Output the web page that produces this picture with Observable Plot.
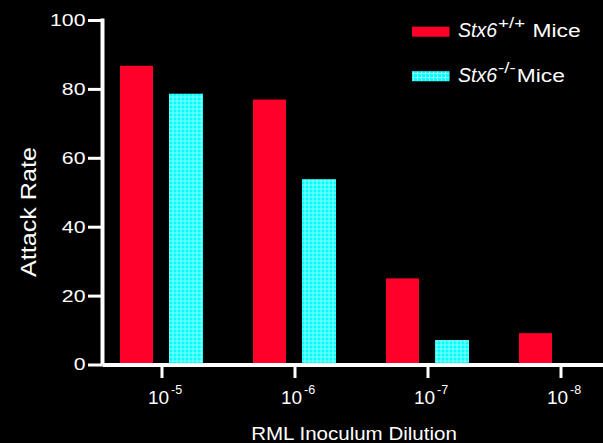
<!DOCTYPE html>
<html>
<head>
<meta charset="utf-8">
<script src="https://cdn.jsdelivr.net/npm/d3@7"></script>
<script src="https://cdn.jsdelivr.net/npm/@observablehq/plot@0.6"></script>
<style>
  html, body { margin: 0; padding: 0; background: #000; }
  #chart svg { display: block; }
</style>
</head>
<body>
<!-- fine light mesh used for the knockout bars (shifted half a pixel so lines stay crisp) -->
<svg width="0" height="0" style="position:absolute">
  <defs>
    <pattern id="mesh" width="4" height="4" patternUnits="userSpaceOnUse" patternTransform="translate(0.5,0.5)">
      <rect width="4" height="4" fill="#00ffff"/>
      <rect width="1" height="4" fill="#8affff"/>
      <rect width="4" height="1" fill="#8affff"/>
    </pattern>
  </defs>
</svg>
<div id="chart"></div>
<script>
// Attack rate (%) per RML inoculum dilution (10^exponent)
const dilutionExponents = ["-5", "-6", "-7", "-8"];
const wildTypeRate = [86.7, 76.9, 25.0, 9.1];
const knockoutRate = [78.6, 53.8, 7.1, null];
const yTicks = [0, 20, 40, 60, 80, 100];
const seriesGene = ["Stx6", "Stx6"];
const seriesGenotype = ["+/+", "-/-"];
const seriesSuffix = [" Mice", "Mice"];
const seriesColors = ["#ff0029", "url(#mesh)"];

const wildType = dilutionExponents.map((d, i) => ({dilution: d, rate: wildTypeRate[i]}));
const knockout = dilutionExponents
  .map((d, i) => ({dilution: d, rate: knockoutRate[i]}))
  .filter(d => d.rate != null);

const W = 603, H = 443;
const marginLeft = 102.5, marginTop = 20, marginBottom = 78.5;
const font = "'Liberation Sans', Arial, Helvetica, sans-serif";

const chart = Plot.plot({
  width: W,
  height: H,
  marginTop,
  marginBottom,
  marginLeft,
  marginRight: 0,
  style: {background: "#000", color: "#fff", fontFamily: font, overflow: "visible"},
  x: {type: "band", domain: dilutionExponents, range: [95, 627], padding: 0},
  y: {domain: [0, 100]},
  marks: [
    Plot.barY(wildType, {x: "dilution", y: "rate", fill: seriesColors[0], insetLeft: 25, insetRight: 75}),
    Plot.barY(knockout, {x: "dilution", y: "rate", fill: seriesColors[1], insetLeft: 74, insetRight: 25}),
    Plot.axisY({ticks: yTicks, tickSize: 14.5, tickPadding: 3, fontSize: 17, strokeWidth: 3, label: null}),
    Plot.axisX({tickSize: 13.5, tickPadding: 11.5, fontSize: 19, strokeWidth: 3, label: null,
                tickFormat: d => `10^${d}`}),
    Plot.ruleY([0], {stroke: "#fff", strokeWidth: 4})
  ]
});

document.getElementById("chart").appendChild(chart);

const svg = d3.select(chart);
const y = chart.scale("y");

// widen a text element horizontally about its anchor
function widen(node, k) {
  const tr = node.getAttribute("transform") || "";
  const x = +node.getAttribute("x") || 0;
  node.setAttribute("transform", `${tr} translate(${x},0) scale(${k},1) translate(${-x},0)`);
}

// y tick labels
svg.selectAll('g[aria-label="y-axis tick label"] text')
  .style("font-size", "17px")
  .each(function () { widen(this, 1.25); });

// x tick labels as powers of ten with superscript exponents
svg.selectAll('g[aria-label="x-axis tick label"] text').each(function () {
  const [base, exp] = this.textContent.split("^");
  const t = d3.select(this).text(null).attr("dx", 3).style("font-size", "19px");
  t.append("tspan").text(base);
  t.append("tspan").attr("dx", 2).attr("dy", -10).style("font-size", "12.5px").text(exp);
});

// vertical y axis line
svg.append("line")
  .attr("x1", marginLeft).attr("x2", marginLeft)
  .attr("y1", y.apply(100) - 1.5).attr("y2", y.apply(0))
  .attr("stroke", "#fff").attr("stroke-width", 4);

// axis titles
svg.append("text")
  .attr("transform", `translate(36,212) rotate(-90) scale(1.17,1)`)
  .attr("text-anchor", "middle").attr("fill", "#fff")
  .style("font-family", font).style("font-size", "21.5px")
  .text("Attack Rate");

svg.append("text")
  .attr("transform", `translate(354,440) scale(1.11,1)`)
  .attr("text-anchor", "middle").attr("fill", "#fff")
  .style("font-family", font).style("font-size", "18.5px")
  .text("RML Inoculum Dilution");

// legend
seriesGenotype.forEach((g, i) => {
  const base = 37 + 44.5 * i;
  const row = svg.append("g")
    .attr("fill", "#fff").attr("text-anchor", "start")
    .style("font-family", font);
  row.append("g").attr("transform", "translate(0.5,0.5)")
    .append("rect")
    .attr("x", 411.5).attr("y", base - 10.8).attr("width", 37.5).attr("height", 10)
    .attr("fill", seriesColors[i]);
  const gene = row.append("text")
    .attr("x", 458).attr("y", base)
    .style("font-size", "19.5px").style("font-style", "italic")
    .text(seriesGene[i]);
  const supX = 458 + gene.node().getComputedTextLength() + 1;
  const sup = row.append("text")
    .attr("transform", `translate(${supX},${base - 8.6}) scale(1.25,1)`)
    .style("font-size", "15px").text(g);
  const tailX = supX + sup.node().getComputedTextLength() * 1.25 + 1;
  row.append("text")
    .attr("transform", `translate(${tailX},${base}) scale(1.2,1)`)
    .style("font-size", "19px").style("white-space", "pre")
    .text(seriesSuffix[i]);
});
</script>
</body>
</html>
